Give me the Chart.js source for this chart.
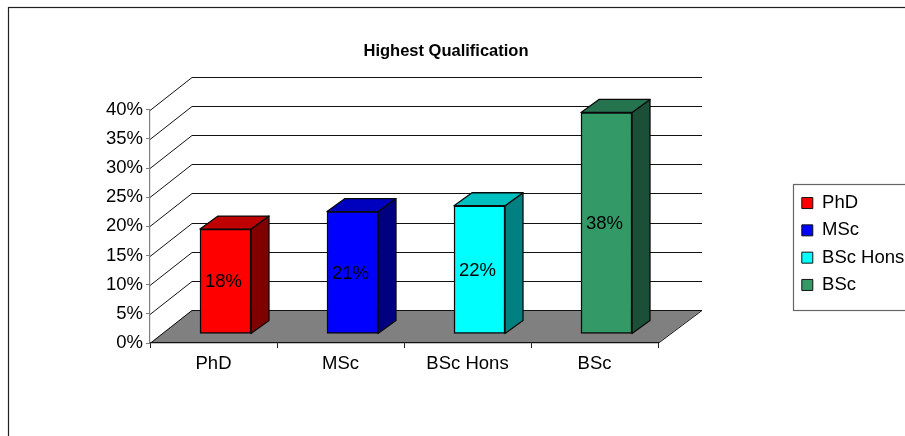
<!DOCTYPE html>
<html>
<head>
<meta charset="utf-8">
<title>Highest Qualification</title>
<script src="https://cdn.jsdelivr.net/npm/chart.js@4/dist/chart.umd.min.js"></script>
<style>
  html, body { margin: 0; padding: 0; background: #fff; overflow: hidden; }
  canvas { display: block; }
</style>
</head>
<body>
<canvas id="myChart" width="905" height="436"></canvas>
<script>
"use strict"

const categories = ["PhD", "MSc", "BSc Hons", "BSc"];
const percentages = [18, 21, 22, 38];
const yTicks = [0, 5, 10, 15, 20, 25, 30, 35, 40];

const frontColors = ["#ff0000", "#0000ff", "#00ffff", "#339966"];
const topColors = ["#bf0000", "#0000bf", "#00bfbf", "#267350"];
const sideColors = ["#800000", "#000080", "#008080", "#1c4f38"];

const FONT = "'Liberation Sans', Arial, sans-serif";
const FONT_SIZE = 18.5;

// how far the back wall sits behind the axes
const WALL_DX = 42, WALL_DY = -33;
// bars stand a little way in from the front edge of the floor
const BAR_DX = 12, BAR_DY = -9;
// depth of one bar
const DEPTH_DX = 18, DEPTH_DY = -13;

function polygon(ctx, points, fill, stroke){
    ctx.beginPath();
    points.forEach((p, i) => i ? ctx.lineTo(p[0], p[1]) : ctx.moveTo(p[0], p[1]));
    ctx.closePath();
    ctx.fillStyle = fill;
    ctx.fill();
    if(stroke){
        ctx.strokeStyle = stroke;
        ctx.lineWidth = 1.3;
        ctx.lineJoin = "round";
        ctx.stroke();
    }
}

const box3d = {
    id: "box3d",

    // legend and title do not sit where the layout puts them
    afterLayout(chart){
        const legend = chart.legend;
        legend.left = 793; legend.right = 905;
        legend.top = 185; legend.bottom = 310;
        chart.titleBlock.left = 0;
        chart.titleBlock.right = 892;
    },

    beforeDraw(chart){
        const ctx = chart.ctx;
        const {left, right, bottom} = chart.chartArea;
        const y = chart.scales.y;

        ctx.save();
        ctx.strokeStyle = "#222";
        ctx.lineWidth = 1.2;
        ctx.strokeRect(8.5, 7.5, 1000, 1000);
        ctx.strokeStyle = "#666";
        ctx.strokeRect(793.5, 184.5, 300, 126);

        polygon(ctx, [
            [left, bottom],
            [left + WALL_DX, bottom + WALL_DY],
            [right + WALL_DX + 2, bottom + WALL_DY],
            [right, bottom]
        ], "#808080");

        // grid runs back along the side wall, then across the back wall
        ctx.strokeStyle = "#111";
        ctx.lineWidth = 1;
        yTicks.forEach(v => {
            const py = Math.round(y.getPixelForValue(v)) + 0.5;
            ctx.beginPath();
            ctx.moveTo(left, py);
            ctx.lineTo(left + WALL_DX, py + WALL_DY);
            ctx.lineTo(right + WALL_DX + 2, py + WALL_DY);
            ctx.stroke();
        });
        ctx.beginPath();
        ctx.moveTo(right, bottom + 0.5);
        ctx.lineTo(right + WALL_DX + 2, bottom + WALL_DY + 0.5);
        ctx.stroke();
        ctx.restore();
    },

    beforeDatasetDraw(chart, args){
        const ctx = chart.ctx;
        ctx.save();
        ctx.translate(BAR_DX, BAR_DY);
        args.meta.data.forEach((bar, i) => {
            const x0 = bar.x - bar.width / 2, x1 = bar.x + bar.width / 2;
            polygon(ctx, [
                [x1, bar.y],
                [x1 + DEPTH_DX, bar.y + DEPTH_DY],
                [x1 + DEPTH_DX, bar.base + DEPTH_DY],
                [x1, bar.base]
            ], sideColors[i], "#0a0a0a");
            polygon(ctx, [
                [x0, bar.y],
                [x0 + DEPTH_DX, bar.y + DEPTH_DY],
                [x1 + DEPTH_DX, bar.y + DEPTH_DY],
                [x1, bar.y]
            ], topColors[i], "#0a0a0a");
        });
    },

    afterDatasetDraw(chart, args){
        const ctx = chart.ctx;
        ctx.restore();

        // value labels in the middle of each front face
        ctx.save();
        ctx.font = FONT_SIZE + "px " + FONT;
        ctx.fillStyle = "#000";
        ctx.textAlign = "center";
        ctx.textBaseline = "middle";
        args.meta.data.forEach((bar, i) => {
            ctx.fillText(percentages[i] + "%", bar.x + BAR_DX - 2, (bar.y + bar.base) / 2 + BAR_DY + 1);
        });
        ctx.restore();
    }
};

const myChart = new Chart(document.getElementById("myChart").getContext("2d"), {
    type: "bar",
    data: {
        labels: categories,
        datasets: [{
            data: percentages,
            backgroundColor: frontColors,
            borderColor: "#0a0a0a",
            borderWidth: 1.5,
            borderSkipped: false,
            barThickness: 51
        }]
    },
    options: {
        responsive: false,
        animation: false,
        layout: { padding: { left: 0, right: 247, top: 0, bottom: 0 } },
        plugins: {
            tooltip: { enabled: false },
            title: {
                display: true,
                text: "Highest Qualification",
                color: "#000",
                font: { family: FONT, size: 16.5, weight: "bold" },
                padding: { top: 42, bottom: 48 }
            },
            legend: {
                position: "chartArea",
                align: "start",
                onClick: null,
                labels: {
                    color: "#000",
                    font: { family: FONT, size: FONT_SIZE },
                    boxWidth: 11,
                    boxHeight: 11,
                    padding: 8.8,
                    generateLabels: () => categories.map((c, i) => ({
                        text: c,
                        fillStyle: frontColors[i],
                        strokeStyle: "#111",
                        lineWidth: 1,
                        index: i
                    }))
                }
            }
        },
        scales: {
            x: {
                afterFit: scale => { scale.height = 93; },
                grid: { drawOnChartArea: false, drawTicks: true, tickLength: 5, color: "#222" },
                border: { color: "#111", width: 1.2 },
                ticks: {
                    color: "#000",
                    padding: 5,
                    maxRotation: 0,
                    font: { family: FONT, size: FONT_SIZE }
                }
            },
            y: {
                min: 0,
                max: 40,
                afterFit: scale => { scale.width = 150; },
                afterBuildTicks: scale => { scale.ticks = yTicks.map(v => ({ value: v })); },
                grid: { drawOnChartArea: false, drawTicks: true, tickLength: 4, color: "#808080" },
                border: { color: "#808080", width: 1.2 },
                ticks: {
                    color: "#000",
                    padding: 3,
                    font: { family: FONT, size: FONT_SIZE },
                    callback: v => v + "%"
                }
            }
        }
    },
    plugins: [box3d]
});
</script>
</body>
</html>
